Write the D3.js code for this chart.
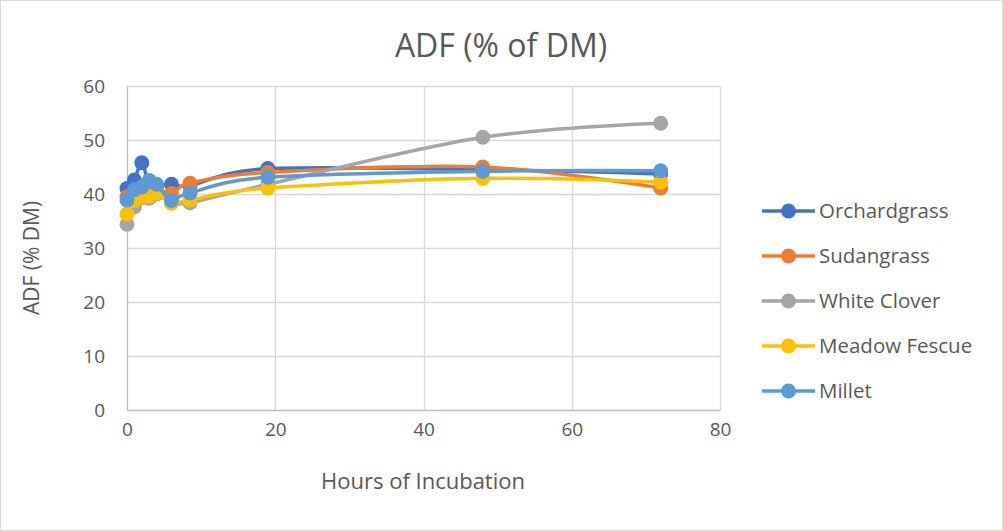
<!DOCTYPE html>
<html>
<head>
<meta charset="utf-8">
<script src="https://cdn.jsdelivr.net/npm/d3@7"></script>
<style>
  body { margin: 0; background: #fff; }
  text { font-family: "Open Sans", "Liberation Sans", sans-serif; fill: #595959; }
</style>
</head>
<body>
<div id="chart"></div>
<script>
// hours sampled
var hours = [0, 1, 2, 3, 4, 6, 8.5, 19, 48, 72];

// ADF values per series
var orchardgrass = [41.0, 42.6, 45.8, 41.5, 41.5, 41.8, 41.6, 44.7, 44.5, 43.7];
var sudangrass   = [39.5, 40.5, 41.0, 40.0, 41.0, 40.1, 42.0, 44.0, 45.0, 41.1];
var whiteClover  = [34.4, 37.6, 39.3, 39.2, 40.0, 38.6, 38.4, 41.8, 50.5, 53.1];
var meadowFescue = [36.3, 38.8, 39.5, 39.6, 40.2, 38.3, 38.9, 41.1, 42.9, 42.2];
var millet       = [38.9, 40.8, 41.3, 42.5, 41.8, 38.8, 40.2, 43.1, 44.2, 44.3];

var seriesNames = ["Orchardgrass", "Sudangrass", "White Clover", "Meadow Fescue", "Millet"];
var seriesColors = ["#4472c4", "#ed7d31", "#a5a5a5", "#ffc000", "#5b9bd5"];
var seriesValues = [orchardgrass, sudangrass, whiteClover, meadowFescue, millet];

var xTicks = [0, 20, 40, 60, 80];
var yTicks = [0, 10, 20, 30, 40, 50, 60];

var W = 1003, H = 531;
var margin = { top: 86, right: 283, bottom: 121, left: 127 },
    width = W - margin.left - margin.right,
    height = H - margin.top - margin.bottom;

var svg = d3.select("#chart").append("svg")
    .attr("width", W)
    .attr("height", H);

// outer chart border
svg.append("rect")
    .attr("x", 0.5).attr("y", 0.5)
    .attr("width", W - 1).attr("height", H - 1)
    .attr("fill", "#fff")
    .attr("stroke", "#d9d9d9");

var g = svg.append("g")
    .attr("transform", "translate(" + margin.left + "," + margin.top + ")");

var x = d3.scaleLinear().domain([0, 80]).range([0, width]);
var y = d3.scaleLinear().domain([0, 60]).range([height, 0]);

// gridlines
g.selectAll(".hgrid")
    .data(yTicks.filter(d => d > 0))
    .enter().append("line")
    .attr("x1", 0).attr("x2", width)
    .attr("y1", d => Math.round(y(d)) + 0.5)
    .attr("y2", d => Math.round(y(d)) + 0.5)
    .attr("stroke", "#d9d9d9").attr("stroke-width", 1.3);

g.selectAll(".vgrid")
    .data(xTicks.filter(d => d > 0))
    .enter().append("line")
    .attr("y1", 0).attr("y2", height)
    .attr("x1", d => Math.round(x(d)) + 0.5)
    .attr("x2", d => Math.round(x(d)) + 0.5)
    .attr("stroke", "#d9d9d9").attr("stroke-width", 1.3);

// axes
var xAxis = d3.axisBottom(x).tickValues(xTicks).tickSize(0).tickPadding(13);
var yAxis = d3.axisLeft(y).tickValues(yTicks).tickSize(0).tickPadding(22);

var gx = g.append("g")
    .attr("transform", "translate(0," + height + ")")
    .call(xAxis);
gx.select(".domain").attr("stroke", "#bfbfbf").attr("stroke-width", 1.3);
gx.selectAll("text").style("font-size", "19px").attr("dy", "0.71em");

var gy = g.append("g").call(yAxis);
gy.select(".domain").attr("stroke", "#bfbfbf").attr("stroke-width", 1.3);
gy.selectAll("text").style("font-size", "19px");

// lines + markers
var line = d3.line()
    .x(d => x(d[0]))
    .y(d => y(d[1]))
    .curve(d3.curveCardinal.tension(0));

seriesValues.forEach(function (vals, i) {
    var pts = hours.map((h, j) => [h, vals[j]]);
    var sg = g.append("g");
    sg.append("path")
        .datum(pts)
        .attr("d", line)
        .attr("fill", "none")
        .attr("stroke", seriesColors[i])
        .attr("stroke-width", 3.5)
        .attr("stroke-linecap", "round");
    sg.selectAll("circle")
        .data(pts)
        .enter().append("circle")
        .attr("cx", d => x(d[0]))
        .attr("cy", d => y(d[1]))
        .attr("r", 7.5)
        .attr("fill", seriesColors[i]);
});

// title
svg.append("text")
    .attr("x", 501).attr("y", 57)
    .attr("text-anchor", "middle")
    .style("font-size", "32px")
    .text("ADF (% of DM)");

// axis titles
svg.append("text")
    .attr("x", 423).attr("y", 489)
    .attr("text-anchor", "middle")
    .style("font-size", "22px")
    .text("Hours of Incubation");

svg.append("text")
    .attr("transform", "translate(39," + (margin.top + height / 2 + 10) + ") rotate(-90)")
    .attr("text-anchor", "middle")
    .style("font-size", "21px")
    .text("ADF (% DM)");

// legend
var legend = svg.selectAll(".legend")
    .data(seriesNames)
    .enter().append("g")
    .attr("transform", (d, i) => "translate(762," + (211 + i * 45) + ")");

legend.append("line")
    .attr("x1", 0).attr("x2", 53)
    .attr("stroke", (d, i) => seriesColors[i])
    .attr("stroke-width", 3.5);
legend.append("circle")
    .attr("cx", 26.5).attr("r", 7.5)
    .attr("fill", (d, i) => seriesColors[i]);
legend.append("text")
    .attr("x", 57).attr("dy", "0.35em")
    .style("font-size", "20.5px")
    .text(d => d);
</script>
</body>
</html>
